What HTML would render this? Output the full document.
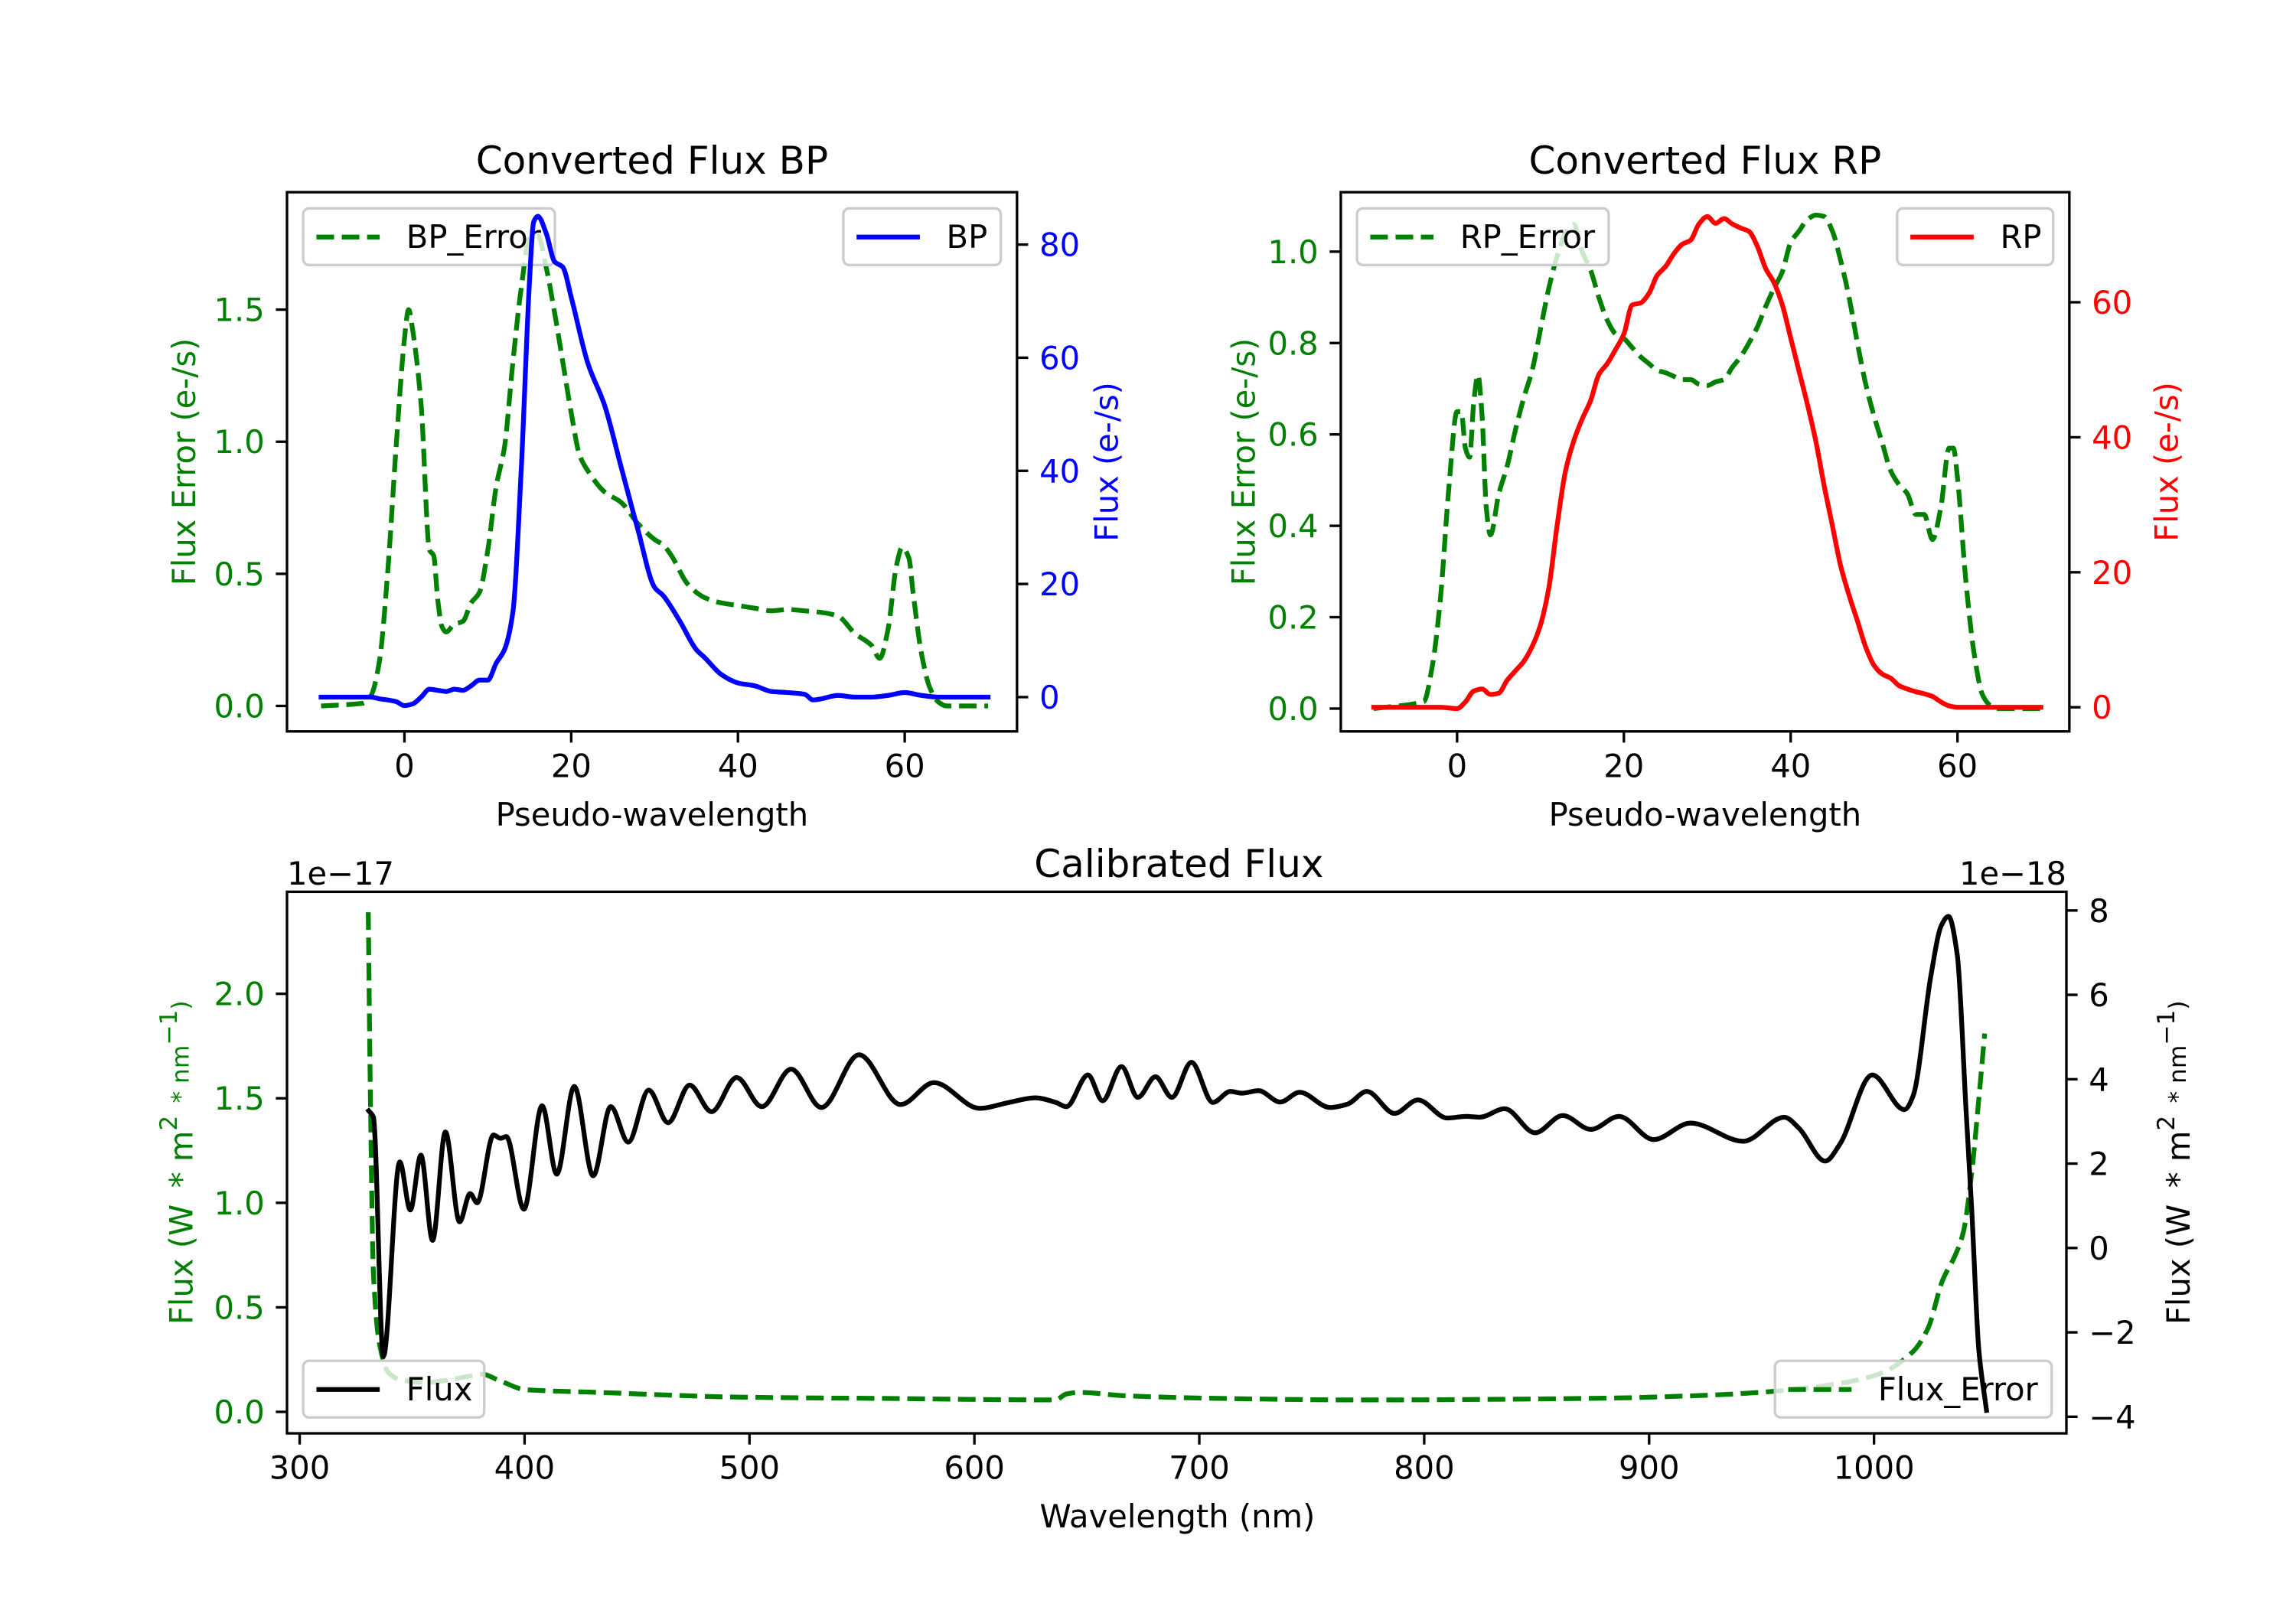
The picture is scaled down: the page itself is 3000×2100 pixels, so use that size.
<!DOCTYPE html>
<html><head><meta charset="utf-8"><style>
html,body{margin:0;padding:0;background:#fff;}
svg{display:block;font-family:"DejaVu Sans","Liberation Sans",sans-serif;}
</style></head><body>
<svg id="fig" xmlns="http://www.w3.org/2000/svg" width="3000" height="2100" viewBox="0 0 1560 1092">
<rect x="0" y="0" width="1560" height="1092" fill="#fff"/>
</svg>
<script>
// ---- Panel 1: BP ----
const bpWave = [-10,-4,-3,-2,-1,0,1,2,3,4,5,6,7,8,9,10,11,12,13,14,15,15.5,16,17,18,19,20,22,24,26,28,30,31,33,35,36,38,40,42,44,46,48,49,50,52,54,56,58,60,62,64,70];
const bpFlux = [0,0,-0.3,-0.5,-0.8,-1.5,-1.2,0,1.4,1.2,1,1.4,1.2,2,3,3,6,8.4,15,40,73.6,84,85,82,77,76,70.7,59,51.6,40.6,29.6,19.4,18,13.5,8.4,7,4,2.5,2,1,0.8,0.5,-0.5,-0.3,0.3,0,0,0.3,0.8,0.3,0,0];
const bpErrWave = [-10,-5,-4,-3,-2,-1,0,0.5,1,2,3,3.5,4,4.5,5,6,7,8,9,10,11,12,13,14,15,16,17,18,19,20,21,22,24,26,28,30,31,32,34,36,38,40,42,44,46,48,50,52,54,56,57,58,59,59.7,60.5,61,62,63,64,65,70];
const bpErr = [0,0.01,0.04,0.17,0.51,0.98,1.39,1.5,1.42,1.14,0.59,0.57,0.4,0.3,0.28,0.31,0.32,0.39,0.43,0.59,0.83,0.98,1.3,1.58,1.77,1.78,1.66,1.49,1.3,1.11,0.95,0.89,0.81,0.77,0.69,0.63,0.61,0.57,0.46,0.41,0.39,0.38,0.37,0.36,0.365,0.36,0.354,0.34,0.275,0.23,0.18,0.29,0.53,0.6,0.56,0.43,0.2,0.07,0.016,0,0];
// ---- Panel 2: RP ----
const rpWave = [-10,-2,0,1,2,3,4,5,6,7,8,9,10,11,12,13,14,15,16,17,18,19,20,21,22,23,24,25,26,27,28,29,30,31,32,33,34,35,36,37,38,39,40,41,42,43,44,45,46,47,48,49,50,51,52,53,54,55,56,57,58,59,60,70];
const rpFlux = [0,0,-0.2,0.8,2.4,2.7,1.9,2.1,4,5.4,6.8,9,12.2,17.7,27,35,39.5,42.7,45.4,49.3,50.9,53,55.3,59.6,59.9,61.3,64,65.3,67.2,68.6,69.2,71.6,72.7,71.7,72.4,71.6,71,70.5,68.3,65,62.9,59.6,54.7,49.8,44.9,39.5,32.9,26.9,20.9,16.6,12.8,8.9,6.2,4.9,4.3,3.2,2.7,2.3,2,1.6,0.8,0.2,0,0];
const rpErrWave = [-10,-4,-3,-2,-1,0,0.5,1,1.5,2,2.5,3,3.5,4,5,6,7,8,9,10,11,12,13,14,15,16,17,18,19,20,21,22,23,24,25,26,27,28,29,30,31,32,33,34,35,36,37,38,39,40,41,42,43,44,45,46,47,48,49,50,51,52,53,54,55,56,57,58,59,59.5,60,61,62,63,64,65,70];
const rpErr = [0,0.015,0.09,0.24,0.48,0.65,0.65,0.57,0.55,0.67,0.73,0.64,0.44,0.38,0.47,0.53,0.61,0.68,0.74,0.83,0.92,0.99,1.04,1.06,1.0,0.96,0.9,0.85,0.82,0.81,0.79,0.77,0.755,0.74,0.735,0.727,0.72,0.72,0.71,0.707,0.715,0.72,0.747,0.77,0.8,0.835,0.88,0.92,0.956,1.02,1.045,1.07,1.08,1.077,1.045,0.98,0.9,0.8,0.71,0.64,0.58,0.52,0.49,0.47,0.425,0.425,0.37,0.44,0.57,0.57,0.505,0.28,0.12,0.03,0.006,0,0];
// ---- Panel 3: Calibrated ----
const calWave = [330.7,332.8,337.2,344.5,349.2,353.9,359.1,364.8,371.1,375.8,378.9,386.2,389.3,391.9,399.7,407.8,414.3,422.1,430.5,438.3,446.1,455.2,463.8,473.4,483.1,494.3,505.5,518.5,532,548.7,567.2,582,602.3,615.4,627.1,636.2,640.9,650.5,657,665.4,672.7,680.5,687.8,696.5,706,713.8,719,726.3,736,744.6,758.1,765.9,774.5,786.8,797.2,810.2,818.8,824.6,835.8,849.3,861.6,874.1,886.6,902,918.4,941.9,960.1,966.6,978.3,984.9,999.2,1013.5,1017.4,1025.3,1029.9,1033.1,1037,1040.9,1043.5,1046.6,1050];
const calFlux = [3.25,3.1,-2.57,2.04,0.9,2.2,0.18,2.75,0.62,1.29,1.07,2.68,2.6,2.64,0.92,3.37,1.75,3.83,1.71,3.35,2.51,3.74,2.97,3.86,3.23,4.04,3.35,4.24,3.33,4.58,3.4,3.92,3.31,3.45,3.56,3.45,3.35,4.1,3.49,4.3,3.57,4.06,3.57,4.4,3.45,3.71,3.67,3.73,3.46,3.69,3.33,3.41,3.71,3.19,3.51,3.08,3.12,3.1,3.3,2.73,3.14,2.81,3.12,2.57,2.96,2.53,3.1,2.84,2.06,2.47,4.1,3.28,3.61,6.46,7.64,7.86,6.95,3.28,0.84,-2.42,-3.85];
const calErrWave = [330.5,331.5,332.8,335.4,339.3,344.5,355,365,375,381,388.8,400.5,433,498,563,636,641,646.6,667,706,772,877,929,955,981,1002,1017,1024,1030.5,1035.7,1039.6,1043.5,1046.1,1049.2];
const calErr = [2.39,1.47,0.66,0.33,0.19,0.155,0.14,0.15,0.17,0.18,0.15,0.106,0.093,0.07,0.064,0.057,0.086,0.093,0.077,0.065,0.057,0.065,0.081,0.098,0.13,0.18,0.285,0.4,0.63,0.74,0.855,1.15,1.44,1.81];
// tick values
const pseudoTicks = [0,20,40,60];
const bpErrTicks = [0,0.5,1.0,1.5];
const bpFluxTicks = [0,20,40,60,80];
const rpErrTicks = [0,0.2,0.4,0.6,0.8,1.0];
const rpFluxTicks = [0,20,40,60];
const waveTicks = [300,400,500,600,700,800,900,1000];
const calErrTicks = [0,0.5,1.0,1.5,2.0];
const calFluxTicks = [-4,-2,0,2,4,6,8];

const NS = 'http://www.w3.org/2000/svg';
const svg = document.getElementById('fig');
const FS = 21.67, LW = 3.25, SPW = 1.73, TL = 7.6;
const DASH = '12 5.2';

function mk(tag, attrs, parent, name, inter) {
  const e = document.createElementNS(NS, tag);
  for (const k in attrs) e.setAttribute(k, attrs[k]);
  
  
  parent.appendChild(e);
  return e;
}
function lin(d0, d1, p0, p1) { return v => p0 + (v - d0) * (p1 - p0) / (d1 - d0); }
function fmt(v, dec) { const s = v.toFixed(dec); return v < 0 ? '\u2212' + s.slice(1) : s; }

function monoPath(px, py) {
  const n = px.length;
  const m = [], t = [];
  for (let i = 0; i < n - 1; i++) m.push((py[i + 1] - py[i]) / (px[i + 1] - px[i]));
  for (let i = 0; i < n; i++) {
    if (i === 0) t.push(m[0]);
    else if (i === n - 1) t.push(m[n - 2]);
    else if (m[i - 1] * m[i] <= 0) t.push(0);
    else t.push(2 / (1 / m[i - 1] + 1 / m[i]));
  }
  let d = 'M' + px[0].toFixed(2) + ',' + py[0].toFixed(2);
  for (let i = 0; i < n - 1; i++) {
    const dx = (px[i + 1] - px[i]) / 3;
    d += 'C' + (px[i] + dx).toFixed(2) + ',' + (py[i] + t[i] * dx).toFixed(2) + ' ' +
      (px[i + 1] - dx).toFixed(2) + ',' + (py[i + 1] - t[i + 1] * dx).toFixed(2) + ' ' +
      px[i + 1].toFixed(2) + ',' + py[i + 1].toFixed(2);
  }
  return d;
}
function series(g, xs, ys, X, Y, color, dashed, name) {
  const n = Math.min(xs.length, ys.length);
  const px = [], py = [];
  for (let i = 0; i < n; i++) { px.push(X(xs[i])); py.push(Y(ys[i])); }
  const a = { d: monoPath(px, py), fill: 'none', stroke: color, 'stroke-width': LW, 'stroke-linejoin': 'round' };
  if (dashed) a['stroke-dasharray'] = DASH; else a['stroke-linecap'] = 'square';
  mk('path', a, g, name, false);
}
function legend(g, x, y, w, label, color, dashed, name) {
  const lg = mk('g', {}, g, name, true);
  mk('rect', { x: x, y: y, width: w, height: 38.5, rx: 4, ry: 4, fill: '#fff', 'fill-opacity': 0.8, stroke: '#cccccc', 'stroke-width': SPW }, lg, name + '-frame', false);
  const a = { x1: x + 9, y1: y + 19.5, x2: x + 52, y2: y + 19.5, stroke: color, 'stroke-width': LW };
  if (dashed) a['stroke-dasharray'] = DASH;
  mk('line', a, lg, name + '-handle', false);
  const t = mk('text', { x: x + 70, y: y + 27, 'font-size': FS, fill: '#000' }, lg, name + '-label', false);
  t.textContent = label;
}
function yTicks(g, ticks, Y, side, x, color, dec, name) {
  ticks.forEach(v => {
    const yy = Y(v);
    const x2 = side === 'left' ? x - TL : x + TL;
    mk('line', { x1: x, y1: yy, x2: x2, y2: yy, stroke: '#000', 'stroke-width': SPW }, g, name + '-tick', false);
    const tx = side === 'left' ? x - 15.2 : x + 15.2;
    const t = mk('text', { x: tx, y: yy + 7.8, 'font-size': FS, fill: color, 'text-anchor': side === 'left' ? 'end' : 'start' }, g, name + '-tick-label', false);
    t.textContent = fmt(v, dec);
  });
}
function xTicks(g, ticks, X, y1, name) {
  ticks.forEach(v => {
    const xx = X(v);
    mk('line', { x1: xx, y1: y1, x2: xx, y2: y1 + TL, stroke: '#000', 'stroke-width': SPW }, g, name + '-tick', false);
    const t = mk('text', { x: xx, y: y1 + 31, 'font-size': FS, fill: '#000', 'text-anchor': 'middle' }, g, name + '-tick-label', false);
    t.textContent = String(v);
  });
}
function ylabel(g, text, cx, cy, color, name, sup) {
  const t = mk('text', { x: 0, y: 0, 'font-size': FS, fill: color, 'text-anchor': 'middle', 'dominant-baseline': 'central', 'xml:space': 'preserve', transform: 'translate(' + cx + ',' + cy + ') rotate(-90)' }, g, name, false);
  if (!sup) { t.textContent = text; return; }
  sup.forEach(p => {
    const s = document.createElementNS(NS, 'tspan');
    s.textContent = p[0];
    if (p[1]) { s.setAttribute('font-size', FS * 0.75); s.setAttribute('dy', p[1]); }
    t.appendChild(s);
  });
}
function plain(g, tag, attrs, text, name) {
  const e = mk(tag, attrs, g, name, false);
  if (text !== undefined) e.textContent = text;
  return e;
}

// ===== Panel 1 =====
(function () {
  const g = mk('g', {}, svg, 'bp-panel', false);
  const x0 = 195, x1 = 691, y0 = 130.6, y1 = 497;
  const X = lin(0, 60, 274.8, 614.7);
  const YL = lin(0, 1.5, 479.7, 210.4);
  const YR = lin(0, 80, 473.7, 166.2);
  series(g, bpErrWave, bpErr, X, YL, '#008000', true, 'bp-error-line');
  legend(g, 206, 141.6, 171, 'BP_Error', '#008000', true, 'bp-error-legend');
  series(g, bpWave, bpFlux, X, YR, '#0000ff', false, 'bp-flux-line');
  legend(g, 573, 141.6, 107, 'BP', '#0000ff', false, 'bp-legend');
  mk('rect', { x: x0, y: y0, width: x1 - x0, height: y1 - y0, fill: 'none', stroke: '#000', 'stroke-width': SPW }, g, 'bp-axes-frame', false);
  xTicks(g, pseudoTicks, X, y1, 'bp-x');
  yTicks(g, bpErrTicks, YL, 'left', x0, '#008000', 1, 'bp-left-y');
  yTicks(g, bpFluxTicks, YR, 'right', x1, '#0000ff', 0, 'bp-right-y');
  plain(g, 'text', { x: (x0 + x1) / 2, y: 118, 'font-size': 26, 'text-anchor': 'middle', fill: '#000' }, 'Converted Flux BP', 'bp-title');
  plain(g, 'text', { x: (x0 + x1) / 2, y: 561, 'font-size': FS, 'text-anchor': 'middle', fill: '#000' }, 'Pseudo-wavelength', 'bp-x-axis-title');
  ylabel(g, 'Flux Error (e-/s)', 125, (y0 + y1) / 2, '#008000', 'bp-left-y-axis-title');
  ylabel(g, 'Flux (e-/s)', 752, (y0 + y1) / 2, '#0000ff', 'bp-right-y-axis-title');
})();

// ===== Panel 2 =====
(function () {
  const g = mk('g', {}, svg, 'rp-panel', false);
  const x0 = 911, x1 = 1406, y0 = 130.6, y1 = 497;
  const X = lin(0, 60, 990, 1330);
  const YL = lin(0, 1.0, 481.5, 171);
  const YR = lin(0, 60, 480.6, 205.4);
  series(g, rpErrWave, rpErr, X, YL, '#008000', true, 'rp-error-line');
  legend(g, 922, 141.6, 171, 'RP_Error', '#008000', true, 'rp-error-legend');
  series(g, rpWave, rpFlux, X, YR, '#ff0000', false, 'rp-flux-line');
  legend(g, 1289, 141.6, 106, 'RP', '#ff0000', false, 'rp-legend');
  mk('rect', { x: x0, y: y0, width: x1 - x0, height: y1 - y0, fill: 'none', stroke: '#000', 'stroke-width': SPW }, g, 'rp-axes-frame', false);
  xTicks(g, pseudoTicks, X, y1, 'rp-x');
  yTicks(g, rpErrTicks, YL, 'left', x0, '#008000', 1, 'rp-left-y');
  yTicks(g, rpFluxTicks, YR, 'right', x1, '#ff0000', 0, 'rp-right-y');
  plain(g, 'text', { x: (x0 + x1) / 2, y: 118, 'font-size': 26, 'text-anchor': 'middle', fill: '#000' }, 'Converted Flux RP', 'rp-title');
  plain(g, 'text', { x: (x0 + x1) / 2, y: 561, 'font-size': FS, 'text-anchor': 'middle', fill: '#000' }, 'Pseudo-wavelength', 'rp-x-axis-title');
  ylabel(g, 'Flux Error (e-/s)', 845, (y0 + y1) / 2, '#008000', 'rp-left-y-axis-title');
  ylabel(g, 'Flux (e-/s)', 1472, (y0 + y1) / 2, '#ff0000', 'rp-right-y-axis-title');
})();

// ===== Panel 3 =====
(function () {
  const g = mk('g', {}, svg, 'calibrated-panel', false);
  const x0 = 195, x1 = 1404, y0 = 606, y1 = 974;
  const X = lin(300, 1000, 203.6, 1273.3);
  const YL = lin(0, 2.0, 959.4, 675.3);
  const YR = lin(-4, 8, 962.7, 618.7);
  series(g, calErrWave, calErr, X, YL, '#008000', true, 'flux-error-line');
  legend(g, 1206, 924.7, 188, 'Flux_Error', '#008000', true, 'flux-error-legend');
  series(g, calWave, calFlux, X, YR, '#000000', false, 'flux-line');
  legend(g, 206, 924.7, 123, 'Flux', '#000000', false, 'flux-legend');
  mk('rect', { x: x0, y: y0, width: x1 - x0, height: y1 - y0, fill: 'none', stroke: '#000', 'stroke-width': SPW }, g, 'calibrated-axes-frame', false);
  xTicks(g, waveTicks, X, y1, 'wave-x');
  yTicks(g, calErrTicks, YL, 'left', x0, '#008000', 1, 'cal-left-y');
  yTicks(g, calFluxTicks, YR, 'right', x1, '#000000', 0, 'cal-right-y');
  plain(g, 'text', { x: 801, y: 596, 'font-size': 26, 'text-anchor': 'middle', fill: '#000' }, 'Calibrated Flux', 'calibrated-title');
  plain(g, 'text', { x: x0, y: 601, 'font-size': FS, 'text-anchor': 'start', fill: '#000' }, '1e\u221217', 'left-offset-text');
  plain(g, 'text', { x: x1, y: 601, 'font-size': FS, 'text-anchor': 'end', fill: '#000' }, '1e\u221218', 'right-offset-text');
  plain(g, 'text', { x: 800, y: 1038, 'font-size': FS, 'text-anchor': 'middle', fill: '#000' }, 'Wavelength (nm)', 'wavelength-x-axis-title');
  const parts = [['Flux (W \u2009* m'], ['2', -8], [' \u2009* nm', 8], ['\u22121', -8], [')', 8]];
  ylabel(g, '', 123, (y0 + y1) / 2, '#008000', 'cal-left-y-axis-title', parts);
  ylabel(g, '', 1480, (y0 + y1) / 2, '#000000', 'cal-right-y-axis-title', parts);
})();
</script>
</body></html>
